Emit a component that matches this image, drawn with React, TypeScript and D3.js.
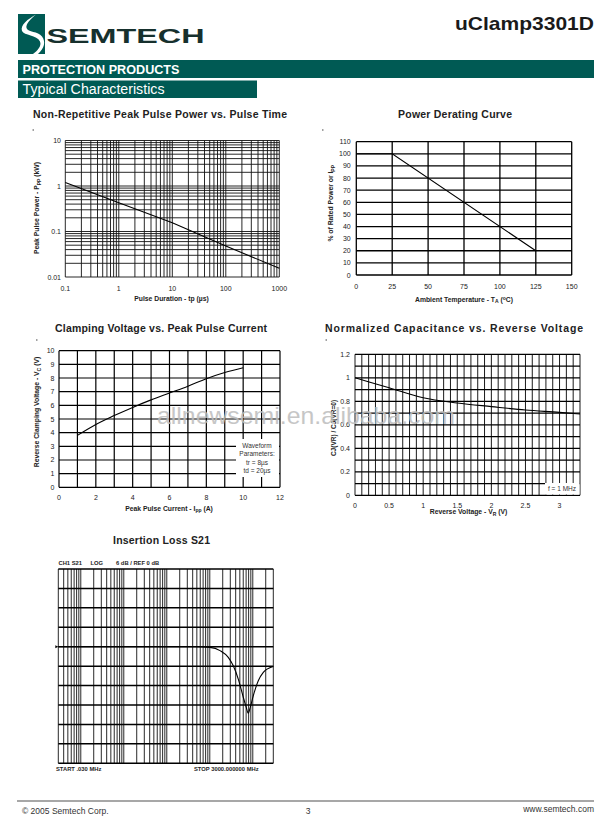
import React from 'react';
import * as d3 from 'd3';

// ---------- DATA ----------
const pulseTime = [0.1, 1, 10, 100, 1000];
const pulsePower = [1.2, 0.43, 0.155, 0.048, 0.0155];
const pulseXTicks = [0.1, 1, 10, 100, 1000];
const pulseYTicks = [0.01, 0.1, 1, 10];

const deratingTemp = [0, 25, 125];
const deratingPct = [100, 100, 20];
const deratingXTicks = [0, 25, 50, 75, 100, 125, 150];
const deratingYTicks = [0, 10, 20, 30, 40, 50, 60, 70, 80, 90, 100, 110];

const clampCurrent = [1, 2, 3, 4, 5, 6, 7, 8, 9, 10];
const clampVoltage = [3.8, 4.6, 5.25, 5.85, 6.4, 6.9, 7.4, 7.95, 8.4, 8.75];
const clampXTicks = [0, 2, 4, 6, 8, 10, 12];
const clampYTicks = [0, 1, 2, 3, 4, 5, 6, 7, 8, 9, 10];
const waveformText = ['Waveform', 'Parameters:', 'tr = 8µs', 'td = 20µs'];

const capVoltage = [0, 0.5, 1, 1.5, 2, 2.5, 3, 3.3];
const capRatio = [1.0, 0.915, 0.83, 0.786, 0.755, 0.726, 0.706, 0.692];
const capXTicks = [0, 0.5, 1, 1.5, 2, 2.5, 3];
const capYTicks = [0, 0.2, 0.4, 0.6, 0.8, 1, 1.2];

const s21Freq = [0.03, 1, 50, 101, 173, 269, 352, 460, 601, 700, 786, 870, 1029, 1342, 1756, 2295, 3000];
const s21dB = [0, 0, 0, -0.2, -1.2, -3.3, -5.9, -10, -15.6, -18.6, -20.5, -18.8, -15.1, -10.5, -7.9, -6.7, -6.1];

const FONT = 'Liberation Sans, Arial, Helvetica, sans-serif';
const GREEN = '#005a54';

function fmt(v: number) {
  return String(v);
}

function Chart1() {
  const x = d3.scaleLog().domain([0.1, 1000]).range([65.3, 279.3]);
  const y = d3.scaleLog().domain([0.01, 10]).range([277, 140.5]);
  const line = d3.line<number>().x((d, i) => x(pulseTime[i])).y(d => y(d));
  return (
    <g>
      {x.ticks().map((t, i) => (
        <line key={'vx' + i} x1={x(t)} x2={x(t)} y1={y(10)} y2={y(0.01)} stroke="#111" strokeWidth={0.9} />
      ))}
      {y.ticks().map((t, i) => (
        <line key={'hy' + i} x1={x(0.1)} x2={x(1000)} y1={y(t)} y2={y(t)} stroke="#111" strokeWidth={0.9} />
      ))}
      <path d={line(pulsePower) || ''} fill="none" stroke="#000" strokeWidth={1.1} />
      {pulseYTicks.map((t, i) => (
        <text key={'yl' + i} x={61} y={y(t) + 2.5} fontSize={7} textAnchor="end" fill="#222">{fmt(t)}</text>
      ))}
      {pulseXTicks.map((t, i) => (
        <text key={'xl' + i} x={x(t)} y={290.5} fontSize={7} textAnchor="middle" fill="#222">{fmt(t)}</text>
      ))}
      <text x={171.5} y={300.8} fontSize={6.8} fontWeight="bold" textAnchor="middle" fill="#222">Pulse Duration - tp (µs)</text>
      <text transform="translate(39,208) rotate(-90)" fontSize={6.8} fontWeight="bold" textAnchor="middle" fill="#222">
        Peak Pulse Power - P<tspan dy={1.5} fontSize={5}>PP</tspan><tspan dy={-1.5}> (kW)</tspan>
      </text>
    </g>
  );
}

function Chart2() {
  const x = d3.scaleLinear().domain([0, 150]).range([356.3, 571.7]);
  const y = d3.scaleLinear().domain([0, 110]).range([275, 141.7]);
  const line = d3.line<number>().x((d, i) => x(deratingTemp[i])).y(d => y(d));
  return (
    <g>
      {deratingXTicks.map((t, i) => (
        <line key={'v' + i} x1={x(t)} x2={x(t)} y1={y(0)} y2={y(110)} stroke="#000" strokeWidth={1.3} />
      ))}
      {deratingYTicks.map((t, i) => (
        <line key={'h' + i} x1={x(0)} x2={x(150)} y1={y(t)} y2={y(t)} stroke="#000" strokeWidth={1.3} />
      ))}
      <path d={line(deratingPct) || ''} fill="none" stroke="#000" strokeWidth={1.1} />
      {deratingYTicks.map((t, i) => (
        <text key={'yl' + i} x={350.7} y={y(t) + 2.5} fontSize={7} textAnchor="end" fill="#222">{fmt(t)}</text>
      ))}
      {deratingXTicks.map((t, i) => (
        <text key={'xl' + i} x={x(t)} y={289.2} fontSize={7} textAnchor="middle" fill="#222">{fmt(t)}</text>
      ))}
      <text x={464} y={301.5} fontSize={6.8} fontWeight="bold" textAnchor="middle" fill="#222">
        Ambient Temperature - T<tspan dy={1.5} fontSize={5}>A</tspan><tspan dy={-1.5}> (</tspan><tspan dy={-2} fontSize={5}>o</tspan><tspan dy={2}>C)</tspan>
      </text>
      <text transform="translate(333,203.3) rotate(-90)" fontSize={6.8} fontWeight="bold" textAnchor="middle" fill="#222">
        % of Rated Power or I<tspan dy={1.5} fontSize={5}>PP</tspan>
      </text>
    </g>
  );
}

function Chart3() {
  const x = d3.scaleLinear().domain([0, 12]).range([59, 280]);
  const y = d3.scaleLinear().domain([0, 10]).range([487.3, 350.7]);
  const line = d3.line<number>().x((d, i) => x(clampCurrent[i])).y(d => y(d)).curve(d3.curveMonotoneX);
  return (
    <g>
      {d3.range(0, 13).map(t => (
        <line key={'v' + t} x1={x(t)} x2={x(t)} y1={y(0)} y2={y(10)} stroke="#000" strokeWidth={1.2} />
      ))}
      {d3.range(0, 11).map(t => (
        <line key={'h' + t} x1={x(0)} x2={x(12)} y1={y(t)} y2={y(t)} stroke="#000" strokeWidth={1.2} />
      ))}
      <path d={line(clampVoltage) || ''} fill="none" stroke="#000" strokeWidth={1.1} />
      <rect x={236} y={439} width={43} height={38} fill="#fff" />
      {waveformText.map((s, i) => (
        <text key={'w' + i} x={257} y={447.5 + i * 8.5} fontSize={6.5} textAnchor="middle" fill="#333">{s}</text>
      ))}
      {clampYTicks.map((t, i) => (
        <text key={'yl' + i} x={54.5} y={y(t) + 2.5} fontSize={7} textAnchor="end" fill="#222">{fmt(t)}</text>
      ))}
      {clampXTicks.map((t, i) => (
        <text key={'xl' + i} x={x(t)} y={500.2} fontSize={7} textAnchor="middle" fill="#222">{fmt(t)}</text>
      ))}
      <text x={169} y={510.5} fontSize={6.8} fontWeight="bold" textAnchor="middle" fill="#222">
        Peak Pulse Current - I<tspan dy={1.5} fontSize={5}>pp</tspan><tspan dy={-1.5}> (A)</tspan>
      </text>
      <text transform="translate(39,412) rotate(-90)" fontSize={6.8} fontWeight="bold" textAnchor="middle" fill="#222">
        Reverse Clamping Voltage - V<tspan dy={1.5} fontSize={5}>C</tspan><tspan dy={-1.5}> (V)</tspan>
      </text>
    </g>
  );
}

function Chart4() {
  const x = d3.scaleLinear().domain([0, 3.3]).range([355, 580]);
  const y = d3.scaleLinear().domain([0, 1.2]).range([495.3, 354.3]);
  const line = d3.line<number>().x((d, i) => x(capVoltage[i])).y(d => y(d)).curve(d3.curveMonotoneX);
  return (
    <g>
      {d3.range(0, 34).map(i => (
        <line key={'v' + i} x1={x(i / 10)} x2={x(i / 10)} y1={y(0)} y2={y(1.2)} stroke="#000" strokeWidth={0.9} />
      ))}
      {d3.range(0, 13).map(i => (
        <line key={'h' + i} x1={x(0)} x2={x(3.3)} y1={y(i / 10)} y2={y(i / 10)} stroke="#000" strokeWidth={1.3} />
      ))}
      <path d={line(capRatio) || ''} fill="none" stroke="#000" strokeWidth={1.1} />
      <rect x={545} y={483} width={34.5} height={11.5} fill="#fff" />
      <text x={562} y={490.5} fontSize={6.5} textAnchor="middle" fill="#333">f = 1 MHz</text>
      {capYTicks.map((t, i) => (
        <text key={'yl' + i} x={350} y={y(t) + 2.5} fontSize={7} textAnchor="end" fill="#222">{fmt(t)}</text>
      ))}
      {capXTicks.map((t, i) => (
        <text key={'xl' + i} x={x(t)} y={507.8} fontSize={7} textAnchor="middle" fill="#222">{fmt(t)}</text>
      ))}
      <text x={468.5} y={514} fontSize={6.8} fontWeight="bold" textAnchor="middle" fill="#222">
        Reverse Voltage - V<tspan dy={1.5} fontSize={5}>R</tspan><tspan dy={-1.5}> (V)</tspan>
      </text>
      <text transform="translate(335.5,428) rotate(-90)" fontSize={6.5} fontWeight="bold" textAnchor="middle" fill="#222">
        CJ(VR) / CJ(VR=0)
      </text>
    </g>
  );
}

function Chart5() {
  const x = d3.scaleLog().domain([0.03, 3000]).range([58.3, 273.3]);
  const y = d3.scaleLinear().domain([-36, 24]).range([763.3, 569]);
  const line = d3.line<number>().x((d, i) => x(s21Freq[i])).y(d => y(d)).curve(d3.curveMonotoneX);
  return (
    <g>
      {x.ticks().map((t, i) => (
        <line key={'v' + i} x1={x(t)} x2={x(t)} y1={y(-36)} y2={y(24)} stroke="#111" strokeWidth={0.9} />
      ))}
      {d3.range(-36, 25, 6).map(t => (
        <line key={'h' + t} x1={x(0.03)} x2={x(3000)} y1={y(t)} y2={y(t)} stroke="#000" strokeWidth={1.5} />
      ))}
      <path d={`M${x(0.03) - 3},${y(0) - 1.5} L${x(0.03)},${y(0)} L${x(0.03) - 3},${y(0) + 1.5} Z`} fill="#000" />
      <path d={line(s21dB) || ''} fill="none" stroke="#000" strokeWidth={1.1} />
      <text x={58.5} y={565} fontSize={5.8} fontWeight="bold" fill="#222">CH1 S21</text>
      <text x={90.5} y={565} fontSize={5.8} fontWeight="bold" fill="#222">LOG</text>
      <text x={116} y={565} fontSize={5.8} fontWeight="bold" fill="#222">6 dB / REF 0 dB</text>
      <text x={56} y={771} fontSize={5.8} fontWeight="bold" fill="#222">START .030 MHz</text>
      <text x={194} y={771} fontSize={5.8} fontWeight="bold" fill="#222">STOP  3000.000000 MHz</text>
    </g>
  );
}

export default function App() {
  return (
    <svg width={611} height={826} viewBox="0 0 611 826"
      style={{ position: 'absolute', left: 0, top: 0, background: '#fff' }} fontFamily={FONT}>
      <rect x={0} y={0} width={611} height={826} fill="#fff" />
      {/* Header */}
      <rect x={18} y={14} width={27} height={40} fill={GREEN} />
      <path d="M36 14.5 C28 19, 20 25, 22 31 C24 35.5, 37 35, 40 41.5 C42 46, 37 51, 33 54 L38 54 C44.5 48, 46 42, 42 36.5 C38 31, 28 32.5, 26.5 28 C25.5 24, 31 18.5, 36 14.5 Z" fill="#fff" />
      <text x={46.5} y={43.3} fontSize={21} fontWeight="bold" fill="#16302d" textLength={158} lengthAdjust="spacingAndGlyphs">SEMTECH</text>
      <text x={594} y={30} fontSize={19} fontWeight="bold" textAnchor="end" fill="#1a1a1a" textLength={139} lengthAdjust="spacingAndGlyphs">uClamp3301D</text>

      <rect x={18} y={60} width={576} height={18} fill={GREEN} />
      <text x={22.5} y={74} fontSize={13.5} fontWeight="bold" fill="#fff" textLength={157} lengthAdjust="spacingAndGlyphs">PROTECTION PRODUCTS</text>
      <rect x={18} y={80.5} width={239} height={17.5} fill={GREEN} />
      <text x={22.5} y={94.3} fontSize={14} fill="#fff" textLength={142} lengthAdjust="spacingAndGlyphs">Typical Characteristics</text>

      {/* Titles */}
      <text x={33} y={118} fontSize={10.5} fontWeight="bold" fill="#222" textLength={254}>Non-Repetitive Peak Pulse Power vs. Pulse Time</text>
      <text x={398} y={118} fontSize={10.5} fontWeight="bold" fill="#222" textLength={114}>Power Derating Curve</text>
      <text x={55} y={331.5} fontSize={10.5} fontWeight="bold" fill="#222" textLength={212}>Clamping Voltage vs. Peak Pulse Current</text>
      <text x={325} y={332} fontSize={10.5} fontWeight="bold" fill="#222" textLength={258}>Normalized Capacitance vs. Reverse Voltage</text>
      <text x={113} y={544} fontSize={10.5} fontWeight="bold" fill="#222" textLength={97}>Insertion Loss S21</text>

      <rect x={32.5} y={129.5} width={1.5} height={1} fill="#444" />
      <rect x={322} y={129.5} width={1.5} height={1} fill="#444" />
      <rect x={36} y={339.5} width={1.5} height={1} fill="#444" />
      <rect x={325.5} y={339.5} width={1.5} height={1} fill="#444" />

      <Chart1 />
      <Chart2 />
      <Chart3 />
      <Chart4 />
      <Chart5 />

      {/* Watermark */}
      <text x={157} y={424} fontSize={24} fill="#bdbdbd" opacity={0.85} textLength={298} lengthAdjust="spacingAndGlyphs">allnewsemi.en.alibaba.com</text>

      {/* Footer */}
      <line x1={17} x2={594} y1={801} y2={801} stroke="#8a8a8a" strokeWidth={1.5} />
      <text x={22} y={813.5} fontSize={8.5} fill="#333">© 2005 Semtech Corp.</text>
      <text x={308} y={813.5} fontSize={8.5} fill="#333" textAnchor="middle">3</text>
      <text x={594} y={811.5} fontSize={8.5} fill="#333" textAnchor="end">www.semtech.com</text>
    </svg>
  );
}
